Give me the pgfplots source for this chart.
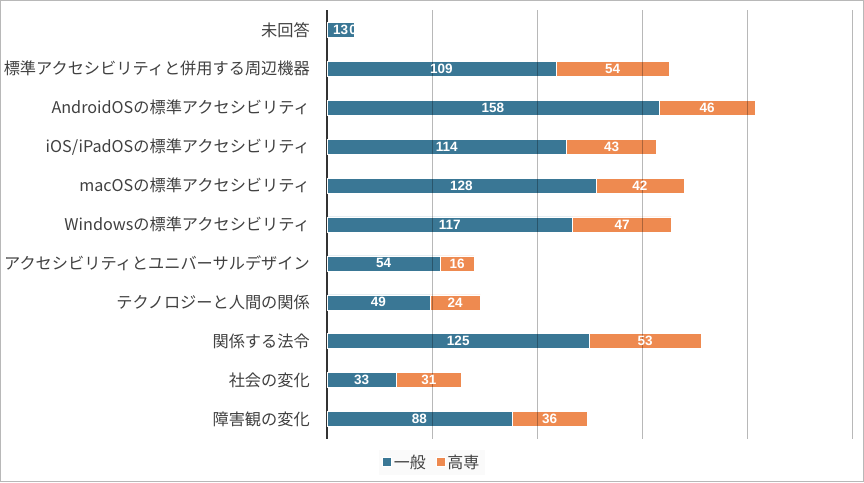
\documentclass[border=0pt]{standalone}
\usepackage{pgfplots}
\pgfplotsset{compat=1.18}
\usepackage{fontspec}
\setmainfont{Noto Sans CJK JP}
\newfontfamily\numfont{Liberation Sans}
\definecolor{cblue}{HTML}{3A7795}
\definecolor{corange}{HTML}{EE8A50}
\definecolor{lbl}{HTML}{404040}
\begin{document}
\begin{tikzpicture}[x=1pt,y=1pt]
\draw[black!28, line width=1pt] (0.5,0.5) rectangle (863.5,481.5);
\begin{axis}[
  at={(327pt,43.5pt)}, anchor=south west,
  scale only axis, width=525pt, height=428pt,
  xbar stacked, bar width=15pt,
  clip=false,
  xmin=0, xmax=250, ymin=-0.5, ymax=10.5,
  xtick={50,100,...,250}, xticklabels={},
  xmajorgrids, major grid style={black, opacity=0.28, line width=0.8pt},
  ytick={0,...,10},
  yticklabels={障害観の変化,社会の変化,関係する法令,テクノロジーと人間の関係,アクセシビリティとユニバーサルデザイン,Windowsの標準アクセシビリティ,macOSの標準アクセシビリティ,iOS/iPadOSの標準アクセシビリティ,AndroidOSの標準アクセシビリティ,標準アクセシビリティと併用する周辺機器,未回答},
  major tick length=0pt,
  axis line style={draw=none},
  yticklabel style={font=\fontsize{16.2}{19}\selectfont, text=lbl, anchor=east, inner sep=0pt},
  yticklabel shift=17pt,
  axis on top,
  legend style={at={(0.2,-0.055)}, anchor=center, legend columns=2, draw=none, fill=black!2,
    font=\fontsize{16}{19}\selectfont, text=lbl, inner sep=3pt,
    /tikz/every even column/.append style={column sep=8pt}},
  legend image code/.code={\fill[#1] (0pt,-4.5pt) rectangle (9pt,4.5pt);},
  nodes near coords, point meta=explicit symbolic,
  every node near coord/.append style={font=\numfont\bfseries\fontsize{13.5}{13.5}\selectfont, text=white, anchor=center, inner sep=0pt},
]
\addplot[fill=cblue, draw=white, line width=0.5pt] coordinates {
 (88,0)[88] (33,1)[33] (125,2)[125] (49,3)[49] (54,4)[54] (117,5)[117] (128,6)[128] (114,7)[114] (158,8)[158] (109,9)[109] (13,10)[13]};
\addlegendentry{一般}
\addplot[fill=corange, draw=white, line width=0.5pt] coordinates {
 (36,0)[36] (31,1)[31] (53,2)[53] (24,3)[24] (16,4)[16] (47,5)[47] (42,6)[42] (43,7)[43] (46,8)[46] (54,9)[54] (0,10)[0]};
\addlegendentry{高専}
% label of the zero-length segment (pgfplots skips empty bars)
\addplot[stack plots=false, forget plot, draw=none, fill=none] coordinates {(25,10)[0]};
\draw[black!80, line width=1.6pt] (rel axis cs:0,0) -- (rel axis cs:0,1);
\end{axis}
\end{tikzpicture}
\end{document}
